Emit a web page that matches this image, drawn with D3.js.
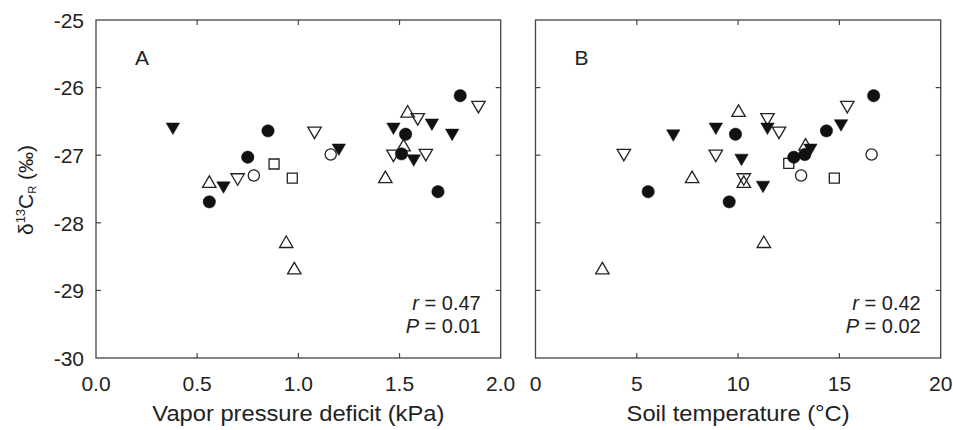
<!DOCTYPE html>
<html><head><meta charset="utf-8">
<script src="https://cdn.jsdelivr.net/npm/d3@7"></script>
<style>body{margin:0;background:#fff;}svg{display:block;font-family:"Liberation Sans",Arial,sans-serif;}</style>
</head><body><svg id="c" width="953" height="430"></svg>
<script>
// ---- data ----
const yTicks = [-30, -29, -28, -27, -26, -25];
const yTickLabels = ["-30", "-29", "-28", "-27", "-26", "-25"];
const vpdTicks = [0, 0.5, 1.0, 1.5, 2.0];
const vpdTickLabels = ["0.0", "0.5", "1.0", "1.5", "2.0"];
const tempTicks = [0, 5, 10, 15, 20];
const tempTickLabels = ["0", "5", "10", "15", "20"];

// Panel A: vapor pressure deficit (kPa) vs d13C
const vpdFilledCircle = [[0.85,-26.64],[0.75,-27.03],[0.56,-27.69],[1.53,-26.69],[1.51,-26.98],[1.80,-26.12],[1.69,-27.54]];
const vpdFilledDown   = [[0.38,-26.60],[0.63,-27.47],[1.20,-26.91],[1.47,-26.60],[1.57,-27.07],[1.66,-26.54],[1.76,-26.69]];
const vpdOpenDown     = [[0.70,-27.35],[1.08,-26.66],[1.59,-26.46],[1.47,-27.00],[1.63,-26.99],[1.89,-26.28]];
const vpdOpenUp       = [[0.56,-27.40],[0.94,-28.29],[0.98,-28.68],[1.43,-27.33],[1.54,-26.36],[1.52,-26.86]];
const vpdOpenCircle   = [[0.78,-27.30],[1.16,-26.99]];
const vpdOpenSquare   = [[0.88,-27.13],[0.97,-27.34]];

// Panel B: soil temperature (°C) vs d13C
const tempFilledCircle = [[5.56,-27.54],[9.56,-27.69],[9.87,-26.69],[12.75,-27.03],[13.29,-26.99],[14.36,-26.64],[16.69,-26.12]];
const tempFilledDown   = [[6.80,-26.70],[8.90,-26.60],[10.17,-27.06],[11.45,-26.60],[11.23,-27.46],[13.57,-26.91],[15.08,-26.55]];
const tempOpenDown     = [[4.36,-26.99],[8.90,-27.00],[10.28,-27.35],[11.45,-26.46],[12.02,-26.66],[15.39,-26.28]];
const tempOpenUp       = [[3.30,-28.68],[7.73,-27.33],[10.02,-26.35],[10.28,-27.40],[13.33,-26.85],[11.27,-28.29]];
const tempOpenCircle   = [[13.11,-27.30],[16.59,-26.99]];
const tempOpenSquare   = [[12.50,-27.12],[14.75,-27.34]];

const panels = [
  {letter:"A", title:"Vapor pressure deficit (kPa)", titleLen:292, domain:[0,2], ticks:vpdTicks, labels:vpdTickLabels,
   r:"0.47", p:"0.01",
   series:[["openUp",vpdOpenUp],["openDown",vpdOpenDown],["openCircle",vpdOpenCircle],["openSquare",vpdOpenSquare],["filledCircle",vpdFilledCircle],["filledDown",vpdFilledDown]]},
  {letter:"B", title:"Soil temperature (°C)", titleLen:223, domain:[0,20], ticks:tempTicks, labels:tempTickLabels,
   r:"0.42", p:"0.02",
   series:[["openUp",tempOpenUp],["openDown",tempOpenDown],["openCircle",tempOpenCircle],["openSquare",tempOpenSquare],["filledCircle",tempFilledCircle],["filledDown",tempFilledDown]]}
];

// ---- drawing ----
const svg = d3.select("#c");
const ink = "#222";
const frameCol = "#444";
const plotTop = 20, plotBottom = 358;
const lefts = [96, 535.5], rights = [500.7, 940.7];
const y = d3.scaleLinear().domain([-30,-25]).range([plotBottom, plotTop]);

function shapePath(kind){
  const s = 6.4;
  if (kind==="openUp") return `M0,${-s} L${s*1.05},${s*0.8} L${-s*1.05},${s*0.8} Z`;
  if (kind==="openDown"||kind==="filledDown") return `M0,${s} L${s*1.05},${-s*0.8} L${-s*1.05},${-s*0.8} Z`;
  if (kind==="openSquare") return `M-5,-5 H5 V5 H-5 Z`;
  return null;
}

panels.forEach((pn, i) => {
  const L = lefts[i], R = rights[i];
  const x = d3.scaleLinear().domain(pn.domain).range([L, R]);
  const g = svg.append("g");
  g.append("rect").attr("x",L).attr("y",plotTop).attr("width",R-L).attr("height",plotBottom-plotTop)
    .attr("fill","none").attr("stroke",frameCol).attr("stroke-width",1.3);
  const tl = 5;
  pn.ticks.slice(1,-1).forEach(t=>{
    g.append("line").attr("x1",x(t)).attr("x2",x(t)).attr("y1",plotBottom).attr("y2",plotBottom-tl).attr("stroke",frameCol).attr("stroke-width",1.2);
    g.append("line").attr("x1",x(t)).attr("x2",x(t)).attr("y1",plotTop).attr("y2",plotTop+tl).attr("stroke",frameCol).attr("stroke-width",1.2);
  });
  yTicks.slice(1,-1).forEach(t=>{
    g.append("line").attr("x1",L).attr("x2",L+tl).attr("y1",y(t)).attr("y2",y(t)).attr("stroke",frameCol).attr("stroke-width",1.2);
    g.append("line").attr("x1",R).attr("x2",R-tl).attr("y1",y(t)).attr("y2",y(t)).attr("stroke",frameCol).attr("stroke-width",1.2);
  });
  pn.ticks.forEach((t,k)=>{
    g.append("text").attr("x",x(t)).attr("y",390.5).attr("text-anchor","middle")
      .attr("font-size",21).attr("fill",ink).text(pn.labels[k]);
  });
  g.append("text").attr("x",(L+R)/2).attr("y",421).attr("text-anchor","middle")
    .attr("font-size",22).attr("textLength",pn.titleLen).attr("lengthAdjust","spacingAndGlyphs")
    .attr("fill",ink).text(pn.title);
  g.append("text").attr("x",L+46).attr("y",65).attr("text-anchor","middle")
    .attr("font-size",21).attr("fill",ink).text(pn.letter);
  const st1 = g.append("text").attr("x",R-20).attr("y",310).attr("text-anchor","end").attr("font-size",20).attr("fill",ink);
  st1.append("tspan").attr("font-style","italic").text("r");
  st1.append("tspan").text(" = " + pn.r);
  const st2 = g.append("text").attr("x",R-20).attr("y",333).attr("text-anchor","end").attr("font-size",20).attr("fill",ink);
  st2.append("tspan").attr("font-style","italic").text("P");
  st2.append("tspan").text(" = " + pn.p);
  pn.series.forEach(([kind, data])=>{
    const filled = kind.startsWith("filled");
    data.forEach(d=>{
      let el;
      if (kind==="filledCircle"||kind==="openCircle"){
        el = g.append("circle").attr("cx",x(d[0])).attr("cy",y(d[1])).attr("r", filled?6.2:5.6);
      } else {
        el = g.append("path").attr("d",shapePath(kind)).attr("transform",`translate(${x(d[0])},${y(d[1])})`);
      }
      if (filled) el.attr("fill","#111").attr("stroke","#111").attr("stroke-width",0.5);
      else el.attr("fill","none").attr("stroke",ink).attr("stroke-width",1.3);
    });
  });
});

yTicks.forEach((t,k)=>{
  svg.append("text").attr("x",84).attr("y",y(t)+7.8).attr("text-anchor","end")
    .attr("font-size",21).attr("fill",ink).text(yTickLabels[k]);
});
const yt = svg.append("text").attr("transform","translate(33,190) rotate(-90)").attr("text-anchor","middle")
  .attr("font-size",21).attr("fill",ink);
yt.append("tspan").text("δ");
yt.append("tspan").attr("font-size",13).attr("dy",-8).text("13");
yt.append("tspan").attr("dy",8).text("C");
yt.append("tspan").attr("font-size",11).attr("dy",3).text("R");
yt.append("tspan").attr("dy",-3).text(" (‰)");
</script></body></html>
